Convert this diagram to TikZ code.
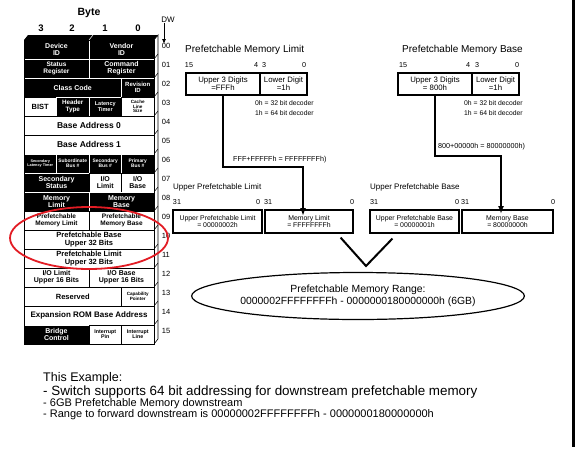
\documentclass[tikz,border=0pt]{standalone}
\usepackage{fontspec}
\setmainfont{Liberation Sans}
\usetikzlibrary{arrows.meta, positioning, shapes.geometric, calc}
\newcommand{\fs}[1]{\fontsize{#1}{#1}\selectfont}
\definecolor{ringred}{RGB}{226,28,36}

\begin{document}
\begin{tikzpicture}[x=1pt, y=-1pt,
    cell/.style={draw=black, fill=white, text=black, minimum height=19pt,
                 inner sep=0pt, align=center, font=\bfseries\fs{7}},
    dcell/.style={cell, draw=white, fill=black, text=white},
    w1/.style={minimum width=32.5pt},
    w2/.style={minimum width=65pt},
    w3/.style={minimum width=97.5pt},
    w4/.style={minimum width=130pt},
    regbox/.style={draw, line width=1.2pt, minimum height=22pt, inner sep=0pt,
                   align=center, font=\fs{7.8}},
    midbox/.style={draw, line width=1.2pt, minimum height=23pt, inner sep=0pt,
                   align=center, font=\fs{6.9}},
    bits/.style={font=\fs{7.2}, inner sep=0pt},
    note/.style={font=\fontsize{6.8}{10}\selectfont, inner sep=0pt, anchor=west, align=left},
    title/.style={font=\fs{10}, inner sep=0pt, anchor=west},
    conn/.style={line width=2pt},
    arrow/.style={conn, -{Latex[length=8pt, width=6pt]}},
    extext/.style={anchor=west, inner sep=0pt}
  ]
  \useasboundingbox (0,0) rectangle (580,450);

  % Header over the register table
  \node[font=\bfseries\fs{10.5}, inner sep=0pt] (byte) at (89,13) {Byte};
  \foreach \b/\x in {3/41, 2/72, 1/105, 0/138}
    \node[font=\bfseries\fs{9.5}, inner sep=0pt] (byte\b) at (\x,28) {\b};
  \node[font=\fs{8}, inner sep=0pt] (dw) at (168,20) {DW};
  \coordinate (dwtip) at (164,44);
  \draw[-{Latex[length=5pt, width=4pt]}, line width=0.8pt] (dw.south -| dwtip) -- (dwtip);
  \foreach \lab [count=\r from 0] in {00,01,02,03,04,05,06,07,08,09,10,11,12,13,14,15}
    \node[font=\fs{7.5}, inner sep=0pt] (dw\lab) at (166, 46+19*\r) {\lab};

  % 3D faces of the table
  \fill (24,40) -- (28,35) -- (158,35) -- (154,40) -- cycle;
  \draw[white, line width=0.5pt] (89,40) -- (93,35);
  \draw[fill=white, line width=0.6pt] (154,40) -- (158,35) -- (158,339) -- (154,344) -- cycle;
  \foreach \r in {1,...,15}
    \draw[line width=0.5pt] (154,40+19*\r) -- (158,35+19*\r);

  % Register cells, one row per DW
  \node[dcell, w2] (devid)  at (56.5,49.5)  {Device\\ID};
  \node[dcell, w2] (venid)  at (121.5,49.5) {Vendor\\ID};
  \node[dcell, w2, font=\bfseries\fs{6.5}] (status) at (56.5,68.5)  {Status\\Register};
  \node[dcell, w2] (command) at (121.5,68.5) {Command\\Register};
  \node[dcell, w3] (class)  at (72.75,87.5) {Class Code};
  \node[dcell, w1, font=\bfseries\fs{6}] (revid) at (137.75,87.5) {Revision\\ID};
  \node[cell, w1, font=\bfseries\fs{7.5}] (bist) at (40.25,106.5) {BIST};
  \node[dcell, w1, font=\bfseries\fs{6.3}] (hdr) at (72.75,106.5) {Header\\Type};
  \node[dcell, w1, font=\bfseries\fs{5.5}] (lat) at (105.25,106.5) {Latency\\Timer};
  \node[cell, w1, font=\bfseries\fs{4.6}] (cache) at (137.75,106.5) {Cache\\Line\\Size};
  \node[cell, w4, font=\bfseries\fs{8.5}] (bar0) at (89,125.5) {Base Address 0};
  \node[cell, w4, font=\bfseries\fs{8.5}] (bar1) at (89,144.5) {Base Address 1};
  \node[dcell, w1, font=\bfseries\fs{3.8}] (seclat) at (40.25,163.5) {Secondary\\Latency Timer};
  \node[dcell, w1, font=\bfseries\fs{4.9}] (subbus) at (72.75,163.5) {Subordinate\\Bus \#};
  \node[dcell, w1, font=\bfseries\fs{4.9}] (secbus) at (105.25,163.5) {Secondary\\Bus \#};
  \node[dcell, w1, font=\bfseries\fs{4.9}] (pribus) at (137.75,163.5) {Primary\\Bus \#};
  \node[dcell, w2] (secstat) at (56.5,182.5) {Secondary\\Status};
  \node[cell, w1] (iolim)  at (105.25,182.5) {I/O\\Limit};
  \node[cell, w1] (iobase) at (137.75,182.5) {I/O\\Base};
  \node[dcell, w2] (memlimreg)  at (56.5,201.5)  {Memory\\Limit};
  \node[dcell, w2] (membasereg) at (121.5,201.5) {Memory\\Base};
  \node[cell, w2, font=\bfseries\fs{6.5}] (pflim)  at (56.5,220.5)  {Prefetchable\\Memory Limit};
  \node[cell, w2, font=\bfseries\fs{6.5}] (pfbase) at (121.5,220.5) {Prefetchable\\Memory Base};
  \node[cell, w4, font=\bfseries\fs{7.5}] (pfbaseup) at (89,239.5) {Prefetchable Base\\Upper 32 Bits};
  \node[cell, w4, font=\bfseries\fs{7.5}] (pflimup)  at (89,258.5) {Prefetchable Limit\\Upper 32 Bits};
  \node[cell, w2, font=\bfseries\fs{7}] (iolimup)  at (56.5,277.5)  {I/O Limit\\Upper 16 Bits};
  \node[cell, w2, font=\bfseries\fs{7}] (iobaseup) at (121.5,277.5) {I/O Base\\Upper 16 Bits};
  \node[cell, w3, font=\bfseries\fs{7.5}] (resv) at (72.75,296.5) {Reserved};
  \node[cell, w1, font=\bfseries\fs{4.6}] (cap) at (137.75,296.5) {Capability\\Pointer};
  \node[cell, w4, font=\bfseries\fs{8}] (rom) at (89,315.5) {Expansion ROM Base Address};
  \node[dcell, w2] (bridge) at (56.5,334.5) {Bridge\\Control};
  \node[cell, w1, font=\bfseries\fs{5.3}] (intpin)  at (105.25,334.5) {Interrupt\\Pin};
  \node[cell, w1, font=\bfseries\fs{5.3}] (intline) at (137.75,334.5) {Interrupt\\Line};
  \draw[line width=0.6pt] (24,40) rectangle (154,344);

  % Red mark round DW 09 to 11
  \draw[ringred, line width=1.8pt] (89,238) ellipse [x radius=79pt, y radius=31pt];

  % Prefetchable Memory Limit register
  \node[title] (limtitle) at (185,50) {Prefetchable Memory Limit};
  \node[bits] (limb15) at (189,65) {15};
  \node[bits] (limb4)  at (256,65) {4};
  \node[bits] (limb3)  at (264,65) {3};
  \node[bits] (limb0)  at (304,65) {0};
  \node[regbox, minimum width=74pt] (limhi) at (223,84) {Upper 3 Digits\\=FFFh};
  \node[regbox, minimum width=47pt] (limlo) at (283.5,84) {Lower Digit\\=1h};
  \node[note] (limnote) at (255,108) {0h = 32 bit decoder\\1h = 64 bit decoder};
  \node[note, font=\fs{7.2}] (limsum) at (233,160) {FFF+FFFFFh = FFFFFFFFh)};

  % Prefetchable Memory Base register
  \node[title] (basetitle) at (402,50) {Prefetchable Memory Base};
  \node[bits] (baseb15) at (403,65) {15};
  \node[bits] (baseb4)  at (468,65) {4};
  \node[bits] (baseb3)  at (477,65) {3};
  \node[bits] (baseb0)  at (517,65) {0};
  \node[regbox, minimum width=74pt] (basehi) at (435,84) {Upper 3 Digits\\= 800h};
  \node[regbox, minimum width=47pt] (baselo) at (495.5,84) {Lower Digit\\=1h};
  \node[note] (basenote) at (464,108) {0h = 32 bit decoder\\1h = 64 bit decoder};
  \node[note, font=\fs{7.2}] (basesum) at (438,147) {800+00000h = 80000000h)};

  % 64 bit limit and base
  \node[note, font=\fs{8}] (uplimlbl) at (173,187) {Upper Prefetchable Limit};
  \node[bits] (uplimb31) at (177,202) {31};
  \node[bits] (uplimb0)  at (258,202) {0};
  \node[bits] (memlimb31) at (268,202) {31};
  \node[bits] (memlimb0)  at (352,202) {0};
  \node[midbox, minimum width=89pt] (uplim)  at (217.5,221.5) {Upper Prefetchable Limit\\= 00000002h};
  \node[midbox, minimum width=88pt] (memlim) at (309,221.5) {Memory Limit\\= FFFFFFFFh};

  \node[note, font=\fs{8}] (upbaselbl) at (370,187) {Upper Prefetchable Base};
  \node[bits] (upbaseb31) at (374,202) {31};
  \node[bits] (upbaseb0)  at (457,202) {0};
  \node[bits] (membaseb31) at (465,202) {31};
  \node[bits] (membaseb0)  at (553,202) {0};
  \node[midbox, minimum width=89pt] (upbase)  at (414.5,221.5) {Upper Prefetchable Base\\= 00000001h};
  \node[midbox, minimum width=91pt] (membase) at (507.5,221.5) {Memory Base\\= 80000000h};

  % Resulting range
  \node[draw, ellipse, line width=1.2pt, minimum width=250pt, minimum height=47pt,
        inner sep=0pt, align=center, font=\fontsize{10.4}{11.5}\selectfont] (range) at (358,296)
        {Prefetchable Memory Range:\\0000002FFFFFFFFh - 0000000180000000h (6GB)};

  % Connectors
  \coordinate (limbend) at (303,167);
  \coordinate (limtip)  at (303,216);
  \coordinate (basebend) at (501,156);
  \coordinate (basetip)  at (501,214);
  \coordinate (vtip) at (366,266);
  \draw[arrow] (limhi.south) |- (limbend) -- (limtip);
  \draw[arrow] (basehi.south) |- (basebend) -- (basetip);
  \draw[conn] ($(memlim.south east)+(-13,4)$) -- (vtip) -- ($(upbase.south west)+(23,5)$);

  % Notes at the bottom
  \node[extext, font=\fs{12.5}] (exhead) at (43,378) {This Example:};
  \node[extext, font=\fs{13.4}] (expt1) at (43,392)
        {- Switch supports 64 bit addressing for downstream prefetchable memory};
  \node[extext, font=\fs{11}] (expt2) at (43,404) {- 6GB Prefetchable Memory downstream};
  \node[extext, font=\fs{11}] (expt3) at (43,415)
        {- Range to forward downstream is 00000002FFFFFFFFh - 0000000180000000h};

  \draw[line width=2.5pt] (573.5,0) -- (573.5,447);
\end{tikzpicture}
\end{document}
